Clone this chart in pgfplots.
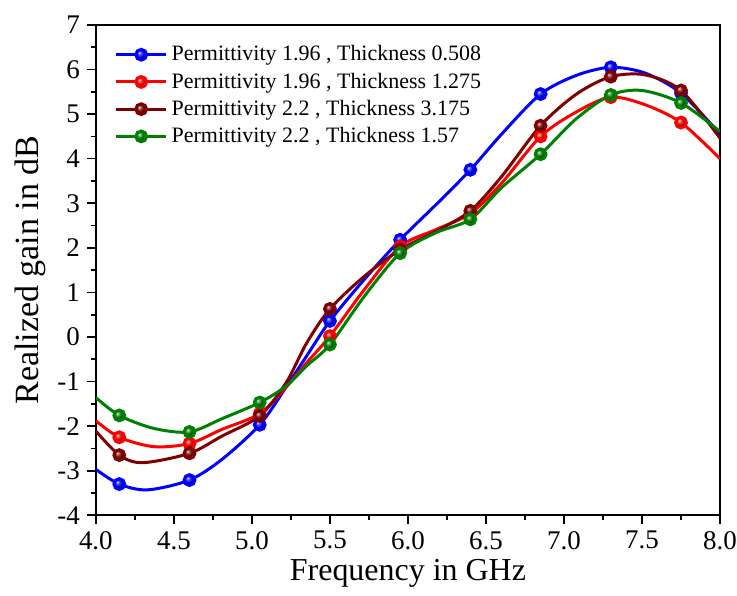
\documentclass[border=0pt]{standalone}
\usepackage{pgfplots}
\pgfplotsset{compat=1.18}
\usepackage{fontspec}
\setmainfont{Liberation Serif}
\definecolor{dred}{RGB}{128,0,0}
\definecolor{dgreen}{RGB}{0,128,0}
\begin{document}
\begin{tikzpicture}
\begin{axis}[
  name=ax,
  scale only axis,
  width=312.5pt, height=245.5pt,
  xmin=4, xmax=8, ymin=-4, ymax=7,
  xtick={4,4.5,...,8}, ytick={-4,-3,...,7},
  minor x tick num=1, minor y tick num=1,
  tick align=outside,
  xtick pos=bottom, ytick pos=left,
  major tick length=4.5pt, minor tick length=2.5pt,
  every tick/.style={black, line width=0.8pt},
  axis line style={line width=0.8pt},
  /pgf/number format/assume math mode=true,
  tick label style={font=\fontsize{13.5}{16}\selectfont},
  x tick label style={/pgf/number format/.cd, fixed, fixed zerofill, precision=1},
  y tick label style={/pgf/number format/.cd, fixed, precision=0},
  xlabel={Frequency in GHz},
  ylabel={Realized gain in dB},
  xlabel style={font=\fontsize{16}{18}\selectfont, yshift=2pt},
  ylabel style={font=\fontsize{17}{19}\selectfont, yshift=-1pt},
  legend style={at={(0.02,0.975)}, anchor=north west, draw=none, fill=none,
    font=\fontsize{11}{13}\selectfont, row sep=0.5pt},
  legend cell align=left,
  legend image code/.code={\draw[#1] plot coordinates {(0pt,0pt)(12.5pt,0pt)(25pt,0pt)};},
  every axis plot/.append style={line width=1.5pt, smooth, mark=ball, mark size=2.7pt,
     mark indices={2,4,6,9,11,13,15,17,19}},
]
\addplot[blue, mark options={ball color=blue}] coordinates {
(4.00,-2.97)(4.15,-3.30)(4.33,-3.43)(4.60,-3.21)(4.81,-2.74)(5.05,-1.97)(5.22,-1.12)(5.35,-0.43)
(5.50,0.36)(5.72,1.29)(5.95,2.18)(6.18,2.97)(6.40,3.75)(6.60,4.55)(6.85,5.45)(7.08,5.87)
(7.30,6.05)(7.52,5.92)(7.75,5.47)(8.00,4.55)};
\addlegendentry{Permittivity 1.96 , Thickness 0.508}
\addplot[red, mark options={ball color=red}] coordinates {
(4.00,-1.88)(4.15,-2.25)(4.37,-2.46)(4.60,-2.39)(4.81,-2.07)(5.05,-1.72)(5.22,-1.12)(5.35,-0.58)
(5.50,0.02)(5.72,1.06)(5.95,2.03)(6.18,2.41)(6.40,2.77)(6.60,3.45)(6.85,4.50)(7.08,5.05)
(7.30,5.38)(7.52,5.21)(7.75,4.81)(8.00,4.00)};
\addlegendentry{Permittivity 1.96 , Thickness 1.275}
\addplot[dred, mark options={ball color=dred}] coordinates {
(4.00,-2.11)(4.15,-2.65)(4.30,-2.82)(4.60,-2.61)(4.81,-2.22)(5.05,-1.77)(5.22,-1.02)(5.35,-0.14)
(5.50,0.63)(5.72,1.36)(5.95,1.96)(6.18,2.37)(6.40,2.83)(6.60,3.60)(6.85,4.74)(7.08,5.45)
(7.30,5.84)(7.52,5.88)(7.75,5.53)(8.00,4.46)};
\addlegendentry{Permittivity 2.2 , Thickness 3.175}
\addplot[dgreen, mark options={ball color=dgreen}] coordinates {
(4.00,-1.36)(4.15,-1.76)(4.37,-2.05)(4.60,-2.13)(4.81,-1.83)(5.05,-1.47)(5.22,-1.10)(5.35,-0.65)
(5.50,-0.17)(5.72,0.91)(5.95,1.88)(6.18,2.34)(6.40,2.64)(6.60,3.35)(6.85,4.10)(7.08,4.90)
(7.30,5.43)(7.50,5.53)(7.75,5.25)(8.00,4.61)};
\addlegendentry{Permittivity 2.2 , Thickness 1.57}
\end{axis}
\pgfresetboundingbox
\path ([shift={(-48pt,-40pt)}]ax.south west) rectangle ([shift={(8.5pt,12.5pt)}]ax.north east);
\end{tikzpicture}
\end{document}
